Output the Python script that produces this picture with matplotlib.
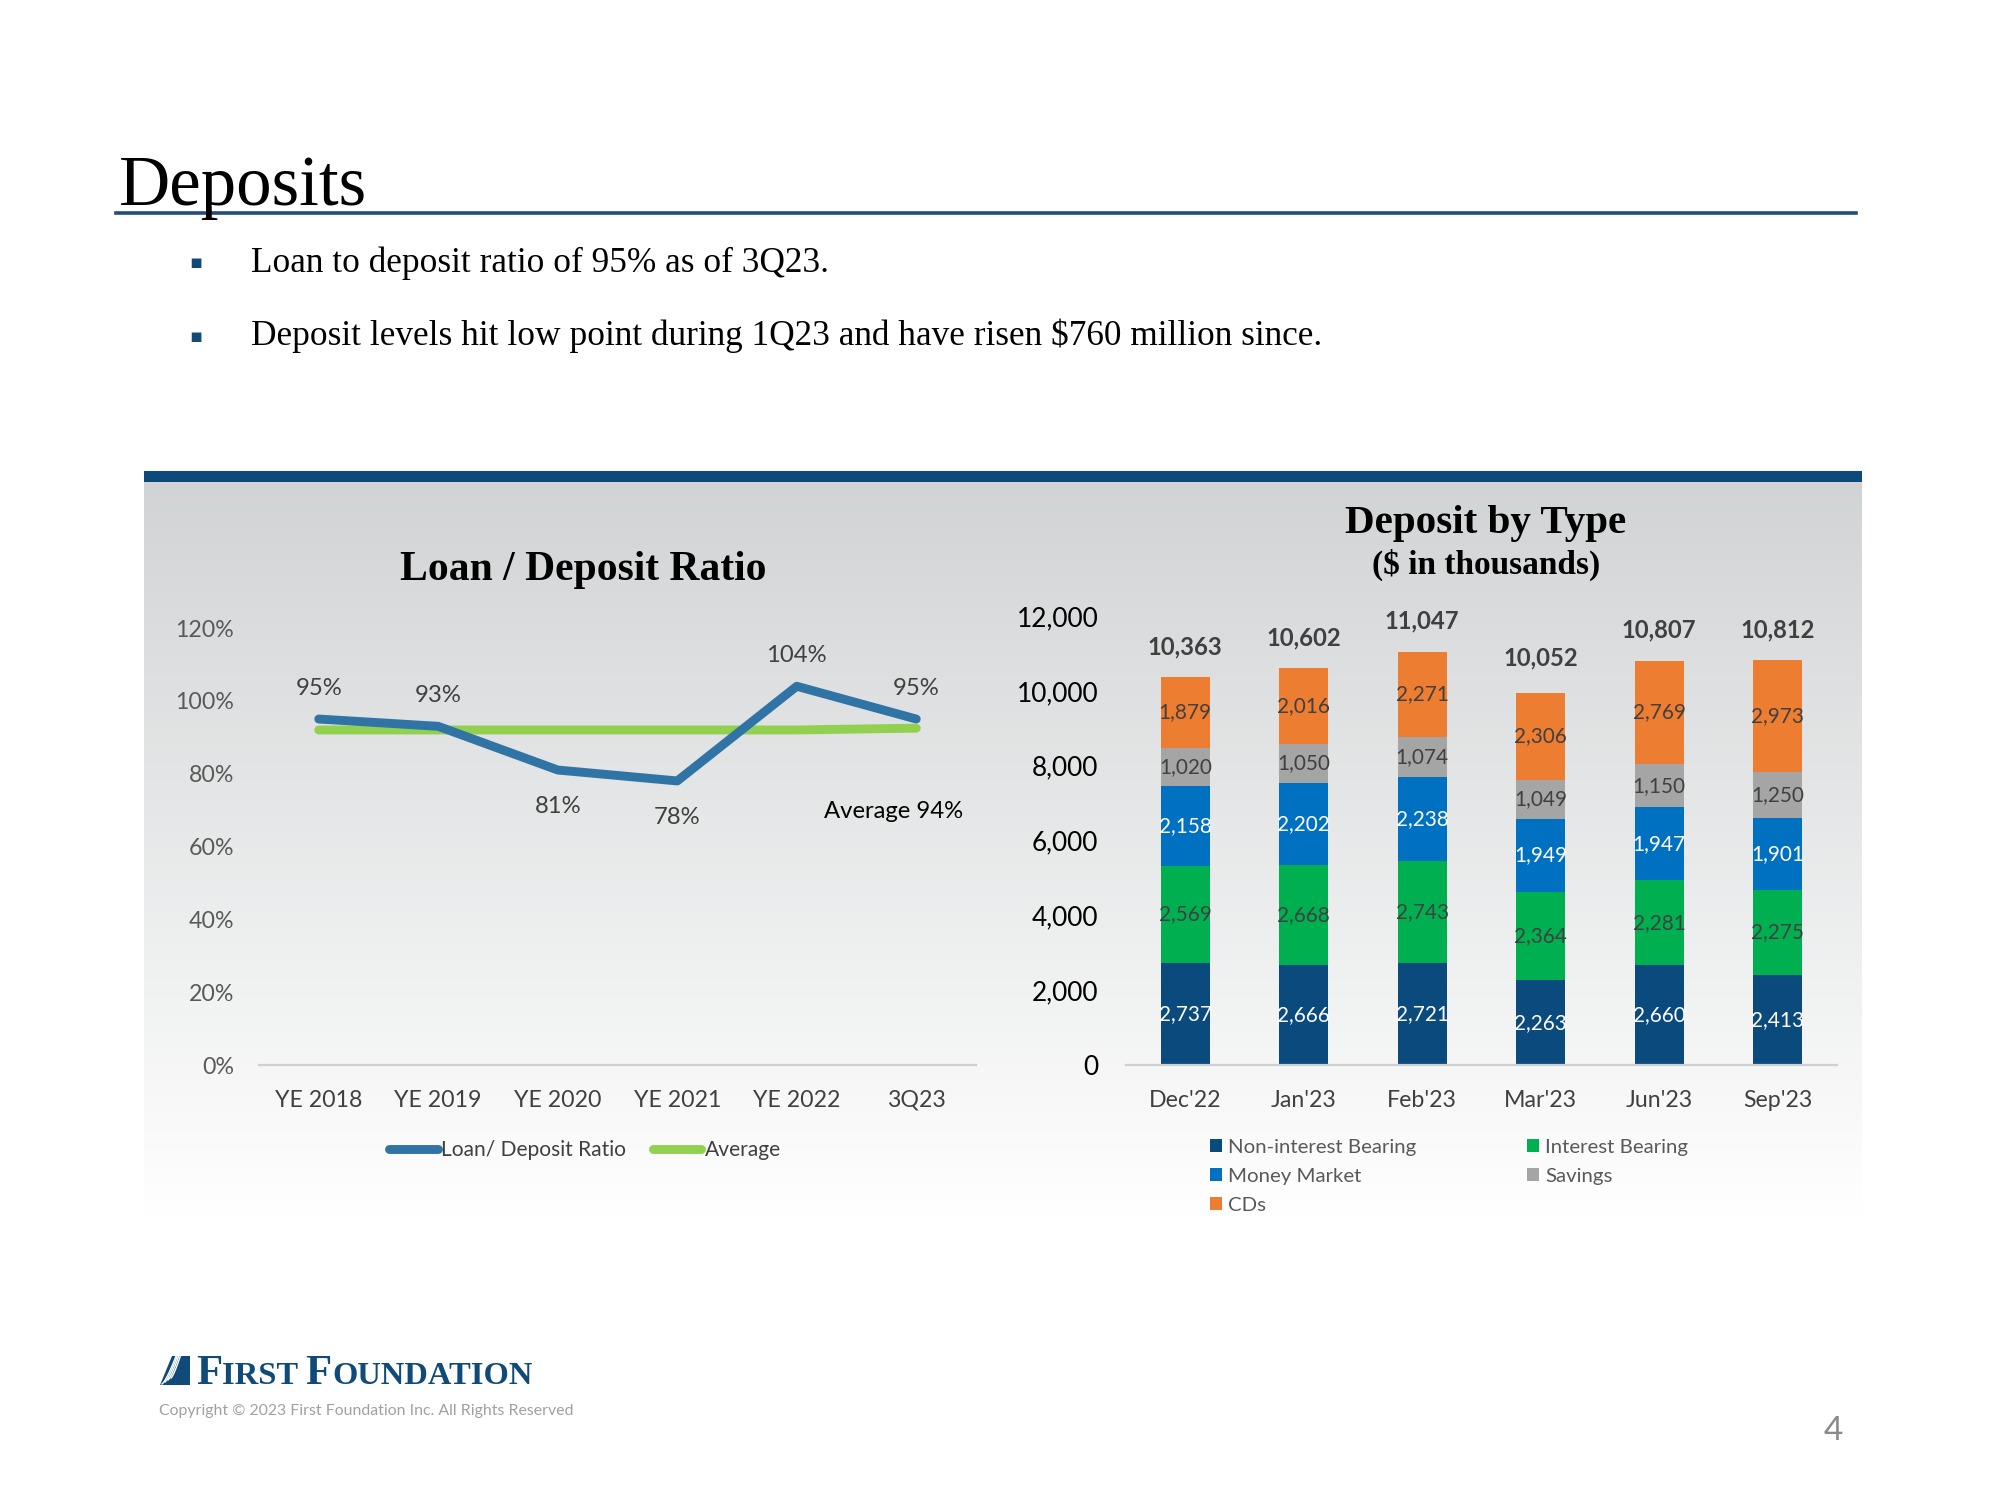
import matplotlib
matplotlib.use("Agg")
import matplotlib.pyplot as plt
import numpy as np
from matplotlib import font_manager
from matplotlib.patches import Rectangle, Polygon
from matplotlib.lines import Line2D

# ---- data ----
years = ["YE 2018", "YE 2019", "YE 2020", "YE 2021", "YE 2022", "3Q23"]
ratio = [95, 93, 81, 78, 104, 95]
average = [92, 92, 92, 92, 92, 92.5]
ratio_labels = ["95%", "93%", "81%", "78%", "104%", "95%"]

months = ["Dec'22", "Jan'23", "Feb'23", "Mar'23", "Jun'23", "Sep'23"]
non_interest = [2737, 2666, 2721, 2263, 2660, 2413]
interest = [2569, 2668, 2743, 2364, 2281, 2275]
money_market = [2158, 2202, 2238, 1949, 1947, 1901]
savings = [1020, 1050, 1074, 1049, 1150, 1250]
cds = [1879, 2016, 2271, 2306, 2769, 2973]
totals = [10363, 10602, 11047, 10052, 10807, 10812]

SERIF = "Liberation Serif"
installed = {f.name for f in font_manager.fontManager.ttflist}
if "Liberation Sans Narrow" in installed:
    SANS, K = "Liberation Sans Narrow", 1.0
else:
    SANS, K = "Lato", 0.86
NAVY = "#0f4a78"

W, H = 2000, 1500
fig = plt.figure(figsize=(10, 7.5), dpi=200)
fig.patch.set_facecolor("white")


def fx(px):
    return px / W


def fy(py):
    return 1 - py / H


# ---- page header ----
fig.text(fx(119), fy(205), "Deposits", fontsize=25.5, family=SERIF, color="black", va="baseline")
fig.add_artist(Line2D([fx(116), fx(1856)], [fy(213), fy(213)], color="#1f4e79", lw=1.3))
bullets = ["Loan to deposit ratio of 95% as of 3Q23.",
           "Deposit levels hit low point during 1Q23 and have risen $760 million since."]
for i, b in enumerate(bullets):
    yy = fy(263 + i * 73)
    fig.text(fx(189), yy, "\u25aa", fontsize=7, color=NAVY, va="center", family="DejaVu Sans")
    fig.text(fx(251), yy, b, fontsize=12.7, family=SERIF, color="black", va="center")

# ---- panel background with gradient ----
bg = fig.add_axes([fx(144), fy(1218), fx(1862) - fx(144), fy(482) - fy(1218)], zorder=-5)
top = np.array([0.82, 0.83, 0.835])
grad = np.linspace(0, 1, 256)[:, None]
img = top[None, None, :] * (1 - grad[:, :, None]) + np.ones(3)[None, None, :] * grad[:, :, None]
bg.imshow(img, aspect="auto", extent=[0, 1, 0, 1], origin="upper")
bg.axis("off")
fig.add_artist(Rectangle((fx(144), fy(482)), fx(1862) - fx(144), fy(471) - fy(482),
                         transform=fig.transFigure, color="#0d4a7c", lw=0))

# ---- left chart: loan / deposit ratio ----
ax1 = fig.add_axes([fx(259), fy(1065), fx(976) - fx(259), fy(628) - fy(1065)])
ax1.patch.set_alpha(0)
x = np.arange(len(years))
ax1.plot(x, ratio, color="#2f74a5", lw=3.2, solid_capstyle="round", label="Loan/ Deposit Ratio", zorder=3)
ax1.plot(x, average, color="#92d050", lw=3.2, solid_capstyle="round", label="Average", zorder=2)
offsets = [11, 11, -13, -13, 11, 11]
for xi, v, lab, off in zip(x, ratio, ratio_labels, offsets):
    ax1.annotate(lab, (xi, v), xytext=(0, off), textcoords="offset points", ha="center",
                 va="center", fontsize=10 * K, family=SANS, color="#404040")
ax1.text(4.81, 69.7, "Average 94%", fontsize=10 * K, family=SANS, color="black", ha="center", va="center")
ax1.set_xlim(-0.5, 5.5)
ax1.set_ylim(0, 120)
ax1.set_yticks(range(0, 121, 20))
ax1.set_yticklabels([f"{v}%" for v in range(0, 121, 20)])
ax1.set_xticks(x)
ax1.set_xticklabels(years)
for s in ["top", "right", "left"]:
    ax1.spines[s].set_visible(False)
ax1.spines["bottom"].set_color("#d0d0d0")
ax1.tick_params(axis="both", length=0, labelsize=9.7 * K, labelcolor="#595959")
ax1.tick_params(axis="x", pad=9, labelcolor="#404040")
ax1.tick_params(axis="y", pad=9)
for t in ax1.get_xticklabels() + ax1.get_yticklabels():
    t.set_family(SANS)
fig.text(fx(583), fy(570), "Loan / Deposit Ratio", fontsize=15, family=SERIF, weight="bold",
         ha="center", va="center")
fig.legend(handles=ax1.get_lines(), loc="center", bbox_to_anchor=(fx(585), fy(1150)), ncol=2,
           frameon=False, prop={"family": SANS, "size": 8.8 * K}, labelcolor="#404040",
           handlelength=2.3, handletextpad=0.15, columnspacing=1.3)

# ---- right chart: deposit by type ----
ax2 = fig.add_axes([fx(1126), fy(1065), fx(1837) - fx(1126), fy(616) - fy(1065)])
ax2.patch.set_alpha(0)
xm = np.arange(len(months))
series = [
    ("Non-interest Bearing", non_interest, "#0b4a7d", "white"),
    ("Interest Bearing", interest, "#00b050", "#404040"),
    ("Money Market", money_market, "#0070c0", "white"),
    ("Savings", savings, "#a5a5a5", "#404040"),
    ("CDs", cds, "#ed7d31", "#404040"),
]
bottom = np.zeros(len(months))
bars = {}
for name, vals, col, tcol in series:
    vals = np.array(vals, dtype=float)
    b = ax2.bar(xm, vals, 0.41, bottom=bottom, color=col, label=name, zorder=2)
    bars[name] = b
    for xi, v, b0 in zip(xm, vals, bottom):
        ax2.text(xi, b0 + v / 2, f"{int(v):,}", ha="center", va="center", fontsize=8.7 * K,
                 family=SANS, color=tcol, zorder=3)
    bottom += vals
for xi, t in zip(xm, totals):
    ax2.annotate(f"{t:,}", (xi, t), xytext=(0, 11), textcoords="offset points", ha="center",
                 va="center", fontsize=10 * K, weight="bold", family=SANS, color="#404040")
ax2.set_xlim(-0.5, 5.5)
ax2.set_ylim(0, 12000)
ax2.set_yticks(range(0, 12001, 2000))
ax2.set_yticklabels([f"{v:,}" for v in range(0, 12001, 2000)])
ax2.set_xticks(xm)
ax2.set_xticklabels(months)
for s in ["top", "right", "left"]:
    ax2.spines[s].set_visible(False)
ax2.spines["bottom"].set_color("#d0d0d0")
ax2.tick_params(axis="both", length=0)
ax2.tick_params(axis="y", labelsize=11 * K, labelcolor="black", pad=10)
ax2.tick_params(axis="x", labelsize=9.7 * K, labelcolor="#404040", pad=9)
for t in ax2.get_xticklabels() + ax2.get_yticklabels():
    t.set_family(SANS)
fig.text(fx(1486), fy(524), "Deposit by Type", fontsize=14.8, family=SERIF, weight="bold",
         ha="center", va="center")
fig.text(fx(1486), fy(565), "($ in thousands)", fontsize=12, family=SERIF, weight="bold",
         ha="center", va="center")
order = ["Non-interest Bearing", "Money Market", "CDs", "Interest Bearing", "Savings"]
fig.legend(handles=[bars[n] for n in order], labels=order, loc="upper left",
           bbox_to_anchor=(fx(1210), fy(1139)), ncol=2, frameon=False,
           prop={"family": SANS, "size": 8.55 * K}, labelcolor="#595959",
           handlelength=0.6, handleheight=0.6, handletextpad=0.3, columnspacing=5.4,
           labelspacing=0.58, borderaxespad=0, borderpad=0)

# ---- footer: logo, copyright, page number ----
fig.add_artist(Polygon([(fx(160), fy(1385)), (fx(190), fy(1385)), (fx(190), fy(1356)),
                        (fx(172), fy(1356))], closed=True, transform=fig.transFigure,
                       color=NAVY, lw=0))
for k in range(4):
    xs = np.linspace(162 + k * 3, 190, 20)
    ys = 1384 - k * 2 - (xs - xs[0]) ** 1.3 * (0.9 + 0.1 * k)
    fig.add_artist(Line2D(fx(xs), fy(ys), color="white", lw=0.5, transform=fig.transFigure))

renderer = fig.canvas.get_renderer()
xpos = fx(196)
for s, size in [("F", 15.4), ("IRST ", 11.7), ("F", 15.4), ("OUNDATION", 11.7)]:
    t = fig.text(xpos, fy(1384), s, fontsize=size, family=SERIF, weight="bold", color=NAVY,
                 va="baseline")
    xpos = t.get_window_extent(renderer=renderer).x1 / fig.bbox.width

fig.text(fx(159), fy(1411), "Copyright \u00a9 2023 First Foundation Inc. All Rights Reserved",
         fontsize=6.65 * K, family=SANS, color="#a0a0a0", va="center")
fig.text(fx(1833), fy(1431), "4", fontsize=12, family=SANS, color="#8a8a8a", ha="center", va="center")

fig.savefig("out.png", dpi=200)
